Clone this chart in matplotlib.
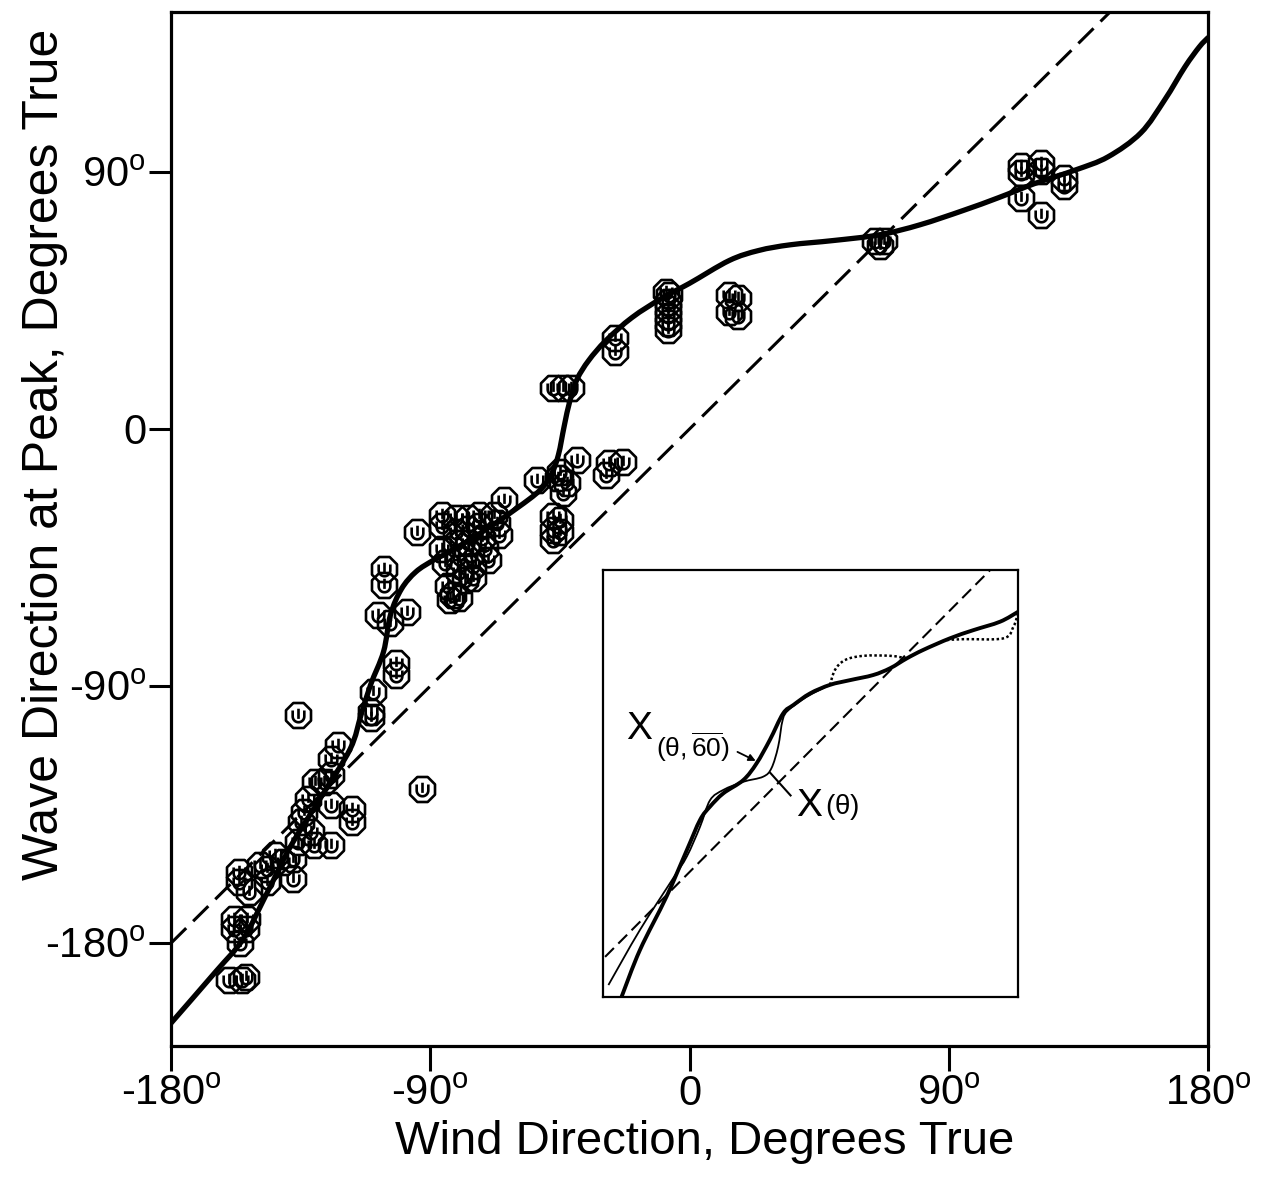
import numpy as np
import matplotlib
matplotlib.use("Agg")
import matplotlib.pyplot as plt
from matplotlib.path import Path
from matplotlib.patches import PathPatch
from matplotlib.transforms import ScaledTranslation

plt.rcParams["font.family"] = ["Liberation Sans", "DejaVu Sans"]
plt.rcParams["mathtext.fontset"] = "custom"
plt.rcParams["mathtext.rm"] = "Liberation Sans"
plt.rcParams["mathtext.it"] = "Liberation Sans"
plt.rcParams["mathtext.bf"] = "Liberation Sans:bold"

# ---- observations: wind direction vs. wave direction at spectral peak (deg) ----
wind_dir = [
    115, 115, 122, 122, 130, 130, 115, 122,
    64.5, 67.5, 66,
    -8, -7, -7.5, -7.5, -7.5, -7.5, -7.5,
    13.8, 17, 13.8, 17,
    -26, -26,
    -47.5, -44, -41,
    -39, -28, -23, -29, -45, -42.5, -44, -53, -64.5, -45.5,
    -47.5, -45, -47.5, -45, -47.5,
    -86, -86, -86, -85, -84, -82, -80, -83,
    -81, -81, -81, -80, -80, -78,
    -77, -77, -77, -76, -75, -75,
    -73, -73, -72, -71, -70,
    -68, -67, -66,
    -94.5,
    -106, -106, -108, -104, -98, -102, -102, -110, -110.5, -110.5, -136, -93,
    -122, -124.5, -124.5, -127, -117, -117, -124.5, -130, -132.5, -134, -135,
    -131.5, -124.5, -130.5, -136, -137.5, -137.5, -144, -146.5, -146.5, -141,
    -149, -156.5, -156.5, -153,
    -158, -153.5, -158, -154, -156, -160, -155.5, -154,
]
wave_dir = [
    92, 89.5, 93, 90.5, 88, 85, 81, 75,
    66, 66, 64,
    48, 47, 44.5, 42, 39.5, 37, 34.5,
    47, 46, 41, 39.5,
    32, 27,
    14.5, 14.5, 14.5,
    -11, -12, -11.5, -16, -15, -19, -22.5, -18, -25, -17,
    -30.5, -32, -35.5, -36, -39,
    -30, -34, -42, -47, -55, -58, -59, -60,
    -31, -36, -40, -45, -50, -53,
    -31, -35, -40, -44, -48, -52,
    -30, -34, -38, -42, -46,
    -30, -33, -37,
    -36,
    -49, -54.5, -65, -68, -64, -82, -86, -92, -99, -101, -100, -126,
    -110.5, -115.5, -121, -123.5, -133, -137.5, -131.5, -123.5, -129.5, -134, -137.5,
    -141, -145.5, -145.5, -144.5, -150.5, -157.5, -149, -154, -158.5, -151.5,
    -152.5, -155, -158.5, -162,
    -171.5, -171.5, -175, -175, -180, -193, -193, -192,
]

# ---- fitted relation drawn through the observations ----
fit_wind = [-180, -164.5, -155, -146.7, -138.6, -128, -117.8, -114, -110.7, -106.2,
            -103.8, -100, -95, -89, -83, -71.6, -59.9, -52, -48, -45.5,
            -43.5, -41.5, -39, -35, -29, -20, -9.3, 0, 13.8, 24,
            35, 50, 66, 80, 95, 107.3, 120, 134, 145.3, 156.7, 165, 172, 177, 180]
fit_wave = [-208, -190, -178.6, -162.5, -146.3, -129, -112, -100, -89.5, -77.9,
            -65, -56, -50, -46, -42.8, -35.8, -27.7, -21.5, -16, -9,
            1, 10, 17.5, 24, 31, 39, 46, 51, 59, 62.5,
            64.5, 66, 68, 71.5, 76.5, 81, 86, 90.7, 95.3, 103.7, 115.3, 126.8, 133.8, 137]

# ---- inset: two forms of the directional relation (normalised units) ----
ins_a_x = [4.5, 8.9, 15.3, 20.2, 23.4, 25.8, 29.0, 33.8, 37.0, 40.2, 43.4, 45.9,
           49.9, 54.7, 59.5, 65.1, 69.2, 73.2, 77.2, 83.6, 89.2, 95.7, 100]
ins_a_y = [0.1, 11.0, 23.5, 34.4, 41.5, 44.6, 47.7, 50.8, 54.7, 60.2, 66.4, 68.4,
           71.1, 73.1, 74.2, 75.4, 77.0, 79.3, 81.3, 84.0, 85.9, 87.9, 90.2]
ins_b_x = [1.3, 8.9, 16.9, 20.2, 23.4, 25.8, 29.0, 33.8, 38.6, 40.6, 42.2, 43.3,
           44.7, 49.1, 54.7]
ins_b_y = [2.8, 15.7, 27.8, 32.9, 39.9, 46.1, 48.5, 50.4, 51.6, 53.6, 58.6, 64.9,
           67.2, 70.3, 73.1]
ins_b2_x = [54.7, 55.9, 58.3, 62.7, 69.2, 73.2]
ins_b2_y = [73.1, 76.6, 78.9, 79.9, 79.9, 79.3]
ins_b3_x = [82.8, 86.8, 96.5, 98.9, 100]
ins_b3_y = [83.6, 83.8, 84.0, 86.7, 89.9]
ins_diag_x = [0.5, 93.3]
ins_diag_y = [9.4, 100]

x_ticks = [-180, -90, 0, 90, 180]
x_tick_labels = ["-180$^{\\mathrm{o}}$", "-90$^{\\mathrm{o}}$", "0",
                 "90$^{\\mathrm{o}}$", "180$^{\\mathrm{o}}$"]
y_ticks = [90, 0, -90, -180]
y_tick_labels = ["90$^{\\mathrm{o}}$", "0", "-90$^{\\mathrm{o}}$", "-180$^{\\mathrm{o}}$"]


def station_marker():
    """Octagon enclosing a cup with a vertical stem."""
    ang = np.deg2rad(np.arange(8) * 45 + 22.5)
    ring = np.column_stack([np.cos(ang), np.sin(ang)])
    ring = np.vstack([ring, ring[:1]])
    octagon = Path(ring, [Path.MOVETO] + [Path.LINETO] * 7 + [Path.CLOSEPOLY])
    t = np.linspace(np.pi, 2 * np.pi, 16)
    arc = np.column_stack([0.43 * np.cos(t), -0.07 + 0.43 * np.sin(t)])
    cup = Path(np.vstack([[-0.43, 0.37], arc, [0.43, 0.37]]))
    stem = Path([[0, 0.5], [0, -0.25]])
    return Path.make_compound_path(octagon, cup, stem)


def smooth_path(xs, ys):
    """Bezier path passing through every given point (Catmull-Rom tangents)."""
    p = np.column_stack([xs, ys]).astype(float)
    ext = np.vstack([p[0], p, p[-1]])
    verts = [p[0]]
    codes = [Path.MOVETO]
    for i in range(len(p) - 1):
        a, b, c, d = ext[i], ext[i + 1], ext[i + 2], ext[i + 3]
        verts += [b + (c - a) / 6.0, c - (d - b) / 6.0, c]
        codes += [Path.CURVE4] * 3
    return Path(verts, codes)


W, H = 1273, 1188
fig = plt.figure(figsize=(W / 100, H / 100), dpi=100)
ax = fig.add_axes([171 / W, 1 - 1046 / H, (1208 - 171) / W, (1046 - 12) / H])

ax.set_xlim(-180, 180)
ax.set_ylim(-216, 146)

ax.plot([-180, 146], [-180, 146], color="black", lw=2.2, dashes=(7, 3.2))
ax.add_patch(PathPatch(smooth_path(fit_wind, fit_wave), fill=False,
                       edgecolor="black", lw=3.8, capstyle="round",
                       joinstyle="round"))
ax.plot(wind_dir, wave_dir, linestyle="none", marker=station_marker(),
        ms=18, mfc="none", mec="black", mew=1.9)

for s in ax.spines.values():
    s.set_linewidth(2.3)

ax.set_xticks(x_ticks)
ax.set_yticks(y_ticks)
ax.tick_params(axis="x", direction="out", length=18, width=2.2, labelbottom=False)
ax.tick_params(axis="y", direction="out", length=16, width=2.2, labelleft=False)

tick_font = 30
xt = ax.get_xaxis_transform()
for v, lab in zip(x_ticks, x_tick_labels):
    ax.text(v, -0.057, lab, transform=xt, ha="center", va="baseline",
            fontsize=tick_font)
yt = ax.get_yaxis_transform()
down = ScaledTranslation(0, -15 / 100, fig.dpi_scale_trans)
for v, lab in zip(y_ticks, y_tick_labels):
    ax.text(-0.024, v, lab, transform=yt + down, ha="right", va="baseline",
            fontsize=tick_font)

ax.set_xlabel("Wind Direction, Degrees True", fontsize=34)
ax.xaxis.set_label_coords(0.515, -0.072)
ax.set_ylabel("Wave Direction at Peak, Degrees True", fontsize=36)
ax.yaxis.set_label_coords(-0.099, 0.572)

# ---- inset ----
ins = fig.add_axes([603 / W, 1 - 997 / H, (1018 - 603) / W, (997 - 570) / H])
ins.set_xlim(0, 100)
ins.set_ylim(0, 100)
ins.set_xticks([])
ins.set_yticks([])
for s in ins.spines.values():
    s.set_linewidth(1.6)
ins.plot(ins_diag_x, ins_diag_y, color="black", lw=1.5, dashes=(6, 3))
ins.add_patch(PathPatch(smooth_path(ins_a_x, ins_a_y), fill=False,
                        edgecolor="black", lw=2.8, joinstyle="round"))
ins.add_patch(PathPatch(smooth_path(ins_b_x, ins_b_y), fill=False,
                        edgecolor="black", lw=1.3))
ins.add_patch(PathPatch(smooth_path(ins_b2_x, ins_b2_y), fill=False,
                        edgecolor="black", lw=1.8, linestyle=(0, (1, 1))))
ins.add_patch(PathPatch(smooth_path(ins_b3_x, ins_b3_y), fill=False,
                        edgecolor="black", lw=1.8, linestyle=(0, (1, 1))))

ins.text(5.5, 60.5, "X", fontsize=28, ha="left", va="baseline")
ins.text(12.8, 56.3, "$\\mathrm{(θ,\\overline{60})}$", fontsize=19, ha="left",
         va="baseline")
ins.annotate("", xy=(36.8, 55.3), xytext=(32.4, 57.4),
             arrowprops=dict(arrowstyle="-|>", lw=1.3, color="black",
                             mutation_scale=10, shrinkA=0, shrinkB=0))
ins.plot([40.3, 45.2], [52.5, 47.2], color="black", lw=1.5)
ins.text(46.5, 42.5, "X", fontsize=28, ha="left", va="baseline")
ins.text(53.5, 42.8, "$\\mathrm{(θ)}$", fontsize=20, ha="left", va="baseline")

fig.savefig("out.png", dpi=100)
